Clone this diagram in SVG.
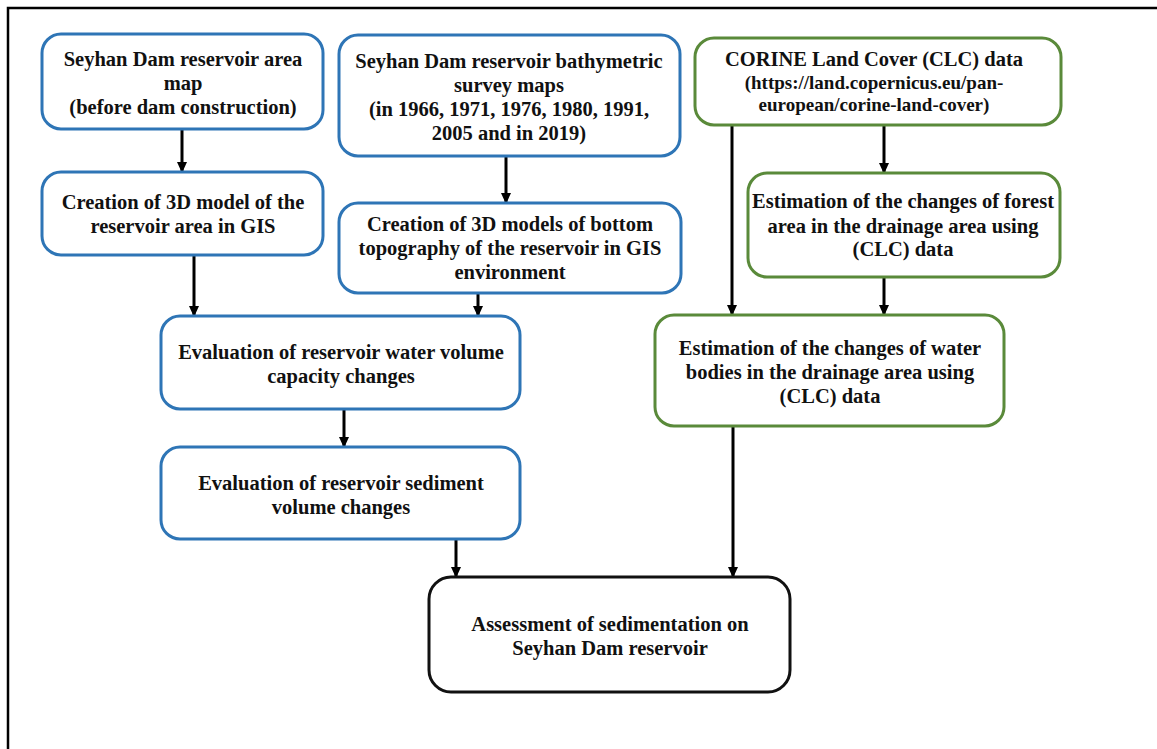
<svg xmlns="http://www.w3.org/2000/svg" width="1157" height="749" viewBox="0 0 1157 749">
<style>
text{font-family:"Liberation Serif","Times New Roman",serif;font-weight:bold;font-size:20.5px;fill:#111;text-anchor:middle}
.small{font-size:19px}
.blue{fill:#fff;stroke:#2E75B6;stroke-width:3}
.green{fill:#fff;stroke:#5A8A3A;stroke-width:3}
.black{fill:#fff;stroke:#111;stroke-width:3}
.conn line{stroke:#000;stroke-width:3}
</style>
<defs>
<marker id="arr" markerUnits="userSpaceOnUse" markerWidth="11" markerHeight="10" refX="10" refY="5" orient="auto" viewBox="0 0 11 10">
<path d="M0,0 L11,5 L0,10 Z" fill="#000"/>
</marker>
</defs>
<rect x="8" y="8" width="1200" height="800" fill="#fff" stroke="#000" stroke-width="2.5"/>

<g class="conn">
<line x1="182" y1="129" x2="182" y2="172" marker-end="url(#arr)"/>
<line x1="506" y1="156" x2="506" y2="203" marker-end="url(#arr)"/>
<line x1="194" y1="255" x2="194" y2="316" marker-end="url(#arr)"/>
<line x1="478" y1="293" x2="478" y2="316" marker-end="url(#arr)"/>
<line x1="344" y1="409" x2="344" y2="447" marker-end="url(#arr)"/>
<line x1="456" y1="539" x2="456" y2="577" marker-end="url(#arr)"/>
<line x1="884" y1="125" x2="884" y2="173" marker-end="url(#arr)"/>
<line x1="732" y1="125" x2="732" y2="315" marker-end="url(#arr)"/>
<line x1="884" y1="277" x2="884" y2="315" marker-end="url(#arr)"/>
<line x1="733" y1="426" x2="733" y2="577" marker-end="url(#arr)"/>
</g>

<g id="n1">
<rect class="blue" x="42" y="34" width="281" height="95" rx="19"/>
<text><tspan x="183" y="66">Seyhan Dam reservoir area</tspan><tspan x="183" y="90">map</tspan><tspan x="183" y="114">(before dam construction)</tspan></text>
</g>
<g id="n2">
<rect class="blue" x="42" y="172" width="281" height="83" rx="19"/>
<text><tspan x="183" y="209">Creation of 3D model of the</tspan><tspan x="183" y="233">reservoir area in GIS</tspan></text>
</g>
<g id="n3">
<rect class="blue" x="339" y="35" width="341" height="121" rx="19"/>
<text><tspan x="509" y="68">Seyhan Dam reservoir bathymetric</tspan><tspan x="509" y="92">survey maps</tspan><tspan x="509" y="116">(in 1966, 1971, 1976, 1980, 1991,</tspan><tspan x="509" y="140">2005 and in 2019)</tspan></text>
</g>
<g id="n4">
<rect class="blue" x="339" y="203" width="342" height="90" rx="19"/>
<text><tspan x="510" y="231">Creation of 3D models of bottom</tspan><tspan x="510" y="255">topography of the reservoir in GIS</tspan><tspan x="510" y="279">environment</tspan></text>
</g>
<g id="n5">
<rect class="blue" x="161" y="316" width="359" height="93" rx="19"/>
<text><tspan x="341" y="359">Evaluation of reservoir water volume</tspan><tspan x="341" y="383">capacity changes</tspan></text>
</g>
<g id="n6">
<rect class="blue" x="161" y="447" width="359" height="92" rx="19"/>
<text><tspan x="341" y="490">Evaluation of reservoir sediment</tspan><tspan x="341" y="514">volume changes</tspan></text>
</g>
<g id="n7">
<rect class="black" x="429" y="577" width="361" height="115" rx="22"/>
<text><tspan x="610" y="631">Assessment of sedimentation on</tspan><tspan x="610" y="655">Seyhan Dam reservoir</tspan></text>
</g>
<g id="n8">
<rect class="green" x="695" y="38" width="366" height="87" rx="19"/>
<text><tspan x="874" y="66">CORINE Land Cover (CLC) data</tspan><tspan class="small" x="874" y="89">(https://land.copernicus.eu/pan-</tspan><tspan class="small" x="874" y="111">european/corine-land-cover)</tspan></text>
</g>
<g id="n9">
<rect class="green" x="748" y="173" width="312" height="104" rx="19"/>
<text><tspan x="903" y="208">Estimation of the changes of forest</tspan><tspan x="903" y="233">area in the drainage area using</tspan><tspan x="903" y="256">(CLC) data</tspan></text>
</g>
<g id="n10">
<rect class="green" x="655" y="315" width="349" height="111" rx="19"/>
<text><tspan x="830" y="355">Estimation of the changes of water</tspan><tspan x="830" y="379">bodies in the drainage area using</tspan><tspan x="830" y="403">(CLC) data</tspan></text>
</g>
</svg>
